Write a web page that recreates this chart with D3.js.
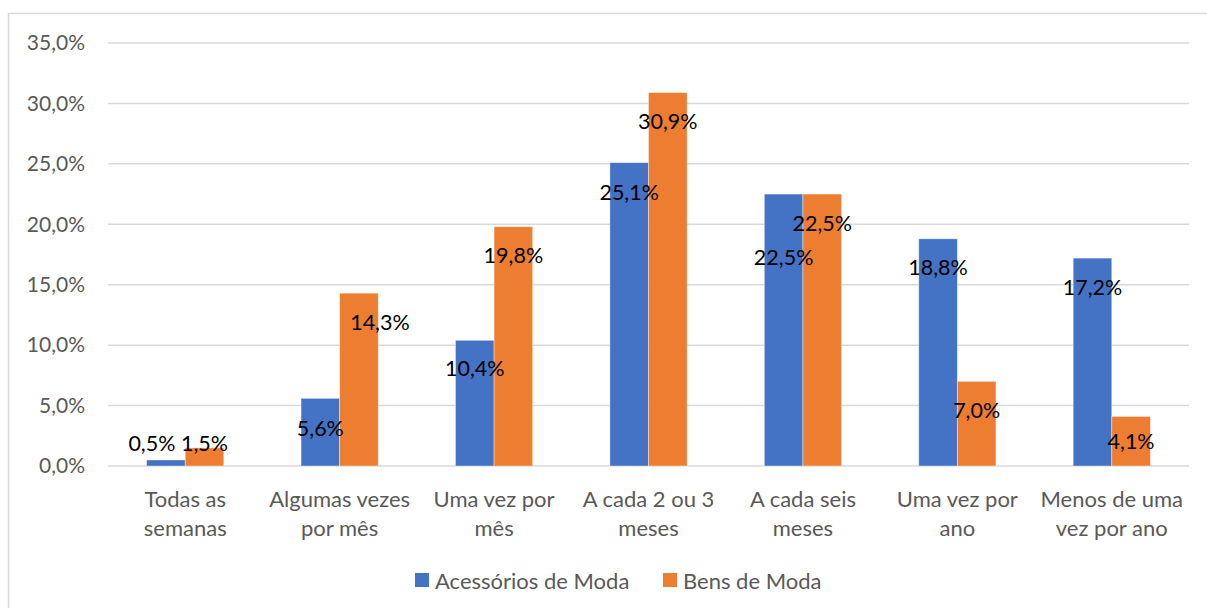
<!DOCTYPE html>
<html><head><meta charset="utf-8">
<script src="https://cdn.jsdelivr.net/npm/d3@7"></script>
<style>
html,body{margin:0;padding:0;background:#fff;}
text{font-family:Lato,"Open Sans",sans-serif;}
</style></head>
<body>
<svg id="chart" width="1207" height="608"></svg>
<script>
const categories = [
  ["Todas as","semanas"],
  ["Algumas vezes","por mês"],
  ["Uma vez por","mês"],
  ["A cada 2 ou 3","meses"],
  ["A cada seis","meses"],
  ["Uma vez por","ano"],
  ["Menos de uma","vez por ano"]
];
const seriesNames = ["Acessórios de Moda","Bens de Moda"];
const acessorios = [0.5, 5.6, 10.4, 25.1, 22.5, 18.8, 17.2];
const bens = [1.5, 14.3, 19.8, 30.9, 22.5, 7.0, 4.1];
const yTicks = [0,5,10,15,20,25,30,35];
const colors = ["#4472C4","#ED7D31"];
// label placement (style): vertical offset from bar top, horizontal shift
const labelDy = [[-17,29.5,28,29,63,28,29],[-5,29,28,28,29,28.6,25]];
const labelDx = [[-14,0,0,0,0,0,0],[0,21,0,0,0,0,0]];

(function(){
const svg = d3.select("#chart");
const mLeft = 108, mRight = 1189, mTop = 43, mBottom = 466;

svg.append("rect").attr("x",8.5).attr("y",13.5).attr("width",1220).attr("height",620)
  .attr("fill","none").attr("stroke","#d9d9d9").attr("stroke-width",1.5);

const x0 = d3.scaleBand().domain(d3.range(categories.length)).range([mLeft,mRight]).paddingInner(0.5).paddingOuter(0.25);
const x1 = d3.scaleBand().domain([0,1]).range([0,x0.bandwidth()]);
const y = d3.scaleLinear().domain([0,35]).range([mBottom,mTop]);

const fmt = v => d3.format(".1f")(v).replace(".",",") + "%";

svg.append("g").selectAll("line").data(yTicks).join("line")
  .attr("x1",mLeft).attr("x2",mRight)
  .attr("y1",d=>y(d)).attr("y2",d=>y(d))
  .attr("stroke","#d9d9d9").attr("stroke-width",1.5);

const yAxis = svg.append("g").attr("transform",`translate(${mLeft},0)`)
  .call(d3.axisLeft(y).tickValues(yTicks).tickSize(0).tickPadding(23).tickFormat(fmt));
yAxis.select(".domain").remove();
yAxis.selectAll("text").attr("fill","#595959").style("font-size","21px").style("font-family","Lato,sans-serif");

const data = [acessorios, bens];
data.forEach((vals, s) => {
  svg.append("g").selectAll("rect").data(vals).join("rect")
    .attr("x",(d,i)=>x0(i)+x1(s))
    .attr("width",x1.bandwidth())
    .attr("y",d=>y(d))
    .attr("height",d=>y(0)-y(d))
    .attr("fill",colors[s])
    .attr("stroke","#ffffff").attr("stroke-opacity",0.5).attr("stroke-width",0.8);
});
data.forEach((vals, s) => {
  svg.append("g").selectAll("text").data(vals).join("text")
    .attr("x",(d,i)=>x0(i)+x1(s)+x1.bandwidth()/2+labelDx[s][i])
    .attr("y",(d,i)=>y(d)+labelDy[s][i])
    .attr("text-anchor","middle").attr("dominant-baseline","central")
    .attr("fill","#000").style("font-size","21.5px")
    .text(d=>fmt(d));
});

const cat = svg.append("g");
categories.forEach((lines,i)=>{
  const cx = x0(i)+x0.bandwidth()/2;
  const t = cat.append("text").attr("x",cx).attr("y",498)
    .attr("text-anchor","middle").attr("fill","#595959").style("font-size","22px")
    .attr("dominant-baseline","central");
  lines.forEach((l,j)=>{
    t.append("tspan").attr("x",cx).attr("dy",j===0?0:29).text(l);
  });
});

const legendX = [415, 663];
const leg = svg.append("g");
seriesNames.forEach((n,s)=>{
  leg.append("rect").attr("x",legendX[s]).attr("y",573).attr("width",14).attr("height",14).attr("fill",colors[s]);
  leg.append("text").attr("x",legendX[s]+20).attr("y",580).attr("dominant-baseline","central")
    .attr("fill","#595959").style("font-size","22px").text(n);
});
})();
</script>
</body></html>
